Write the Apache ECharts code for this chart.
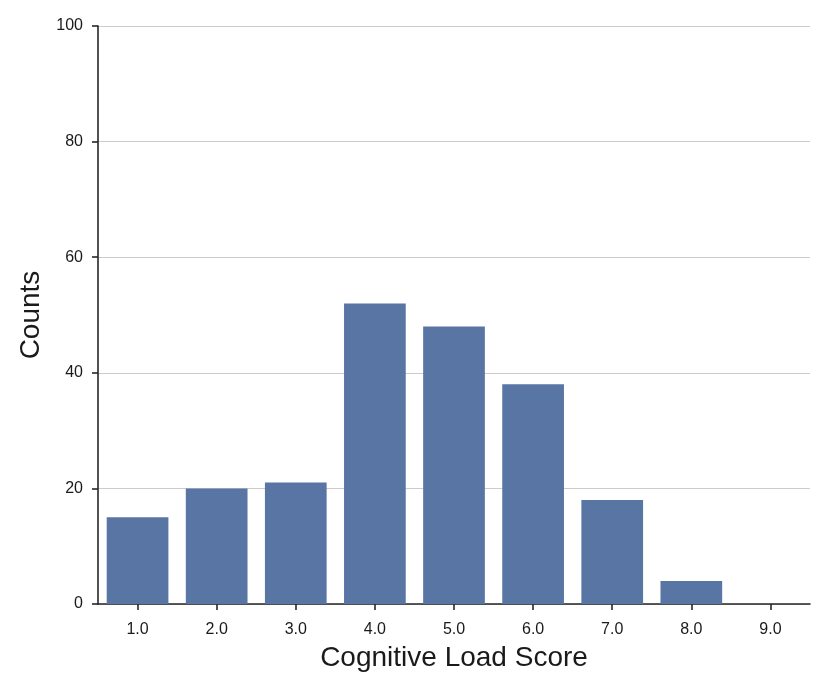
<!DOCTYPE html>
<html><head><meta charset="utf-8">
<script src="https://cdn.jsdelivr.net/npm/echarts@6/dist/echarts.min.js"></script>
<style>html,body{margin:0;padding:0;background:#fff}#c{width:830px;height:692px}</style>
</head><body><div id="c"></div>
<script>
const categories = ['1.0','2.0','3.0','4.0','5.0','6.0','7.0','8.0','9.0'];
const counts = [15, 20, 21, 52, 48, 38, 18, 4, 0];
const yTicks = [0, 20, 40, 60, 80, 100];

const chart = echarts.init(document.getElementById('c'), null, {renderer:'canvas'});
const font = 'Arial, "Liberation Sans", sans-serif';
chart.setOption({
  animation: false,
  grid: {left: 98, right: 20, top: 26, bottom: 88, containLabel: false},
  xAxis: {
    type: 'category', data: categories,
    name: 'Cognitive Load Score', nameLocation: 'middle', nameGap: 40,
    nameTextStyle: {fontSize: 28, color: '#1a1a1a', fontFamily: font},
    axisLine: {lineStyle: {color: '#262626', width: 1.6}},
    axisTick: {show: true, alignWithLabel: true, length: 6, lineStyle: {color: '#262626', width: 1.6}},
    axisLabel: {fontSize: 16, color: '#1a1a1a', fontFamily: font, margin: 18}
  },
  yAxis: {
    type: 'value', min: 0, max: 100, interval: 20,
    name: 'Counts', nameLocation: 'middle', nameGap: 51,
    nameTextStyle: {fontSize: 28, color: '#1a1a1a', fontFamily: font},
    axisLine: {show: true, lineStyle: {color: '#262626', width: 1.6}},
    axisTick: {show: true, length: 6, lineStyle: {color: '#262626', width: 1.6}},
    axisLabel: {fontSize: 16, color: '#1a1a1a', fontFamily: font, margin: 15,
      formatter: v => yTicks.includes(v) ? String(v) : ''},
    splitLine: {show: true, lineStyle: {color: '#cccccc', width: 1}}
  },
  series: [{
    type: 'bar', data: counts, barWidth: '78%',
    itemStyle: {color: '#5875a4', borderWidth: 0}
  }]
});
</script></body></html>
